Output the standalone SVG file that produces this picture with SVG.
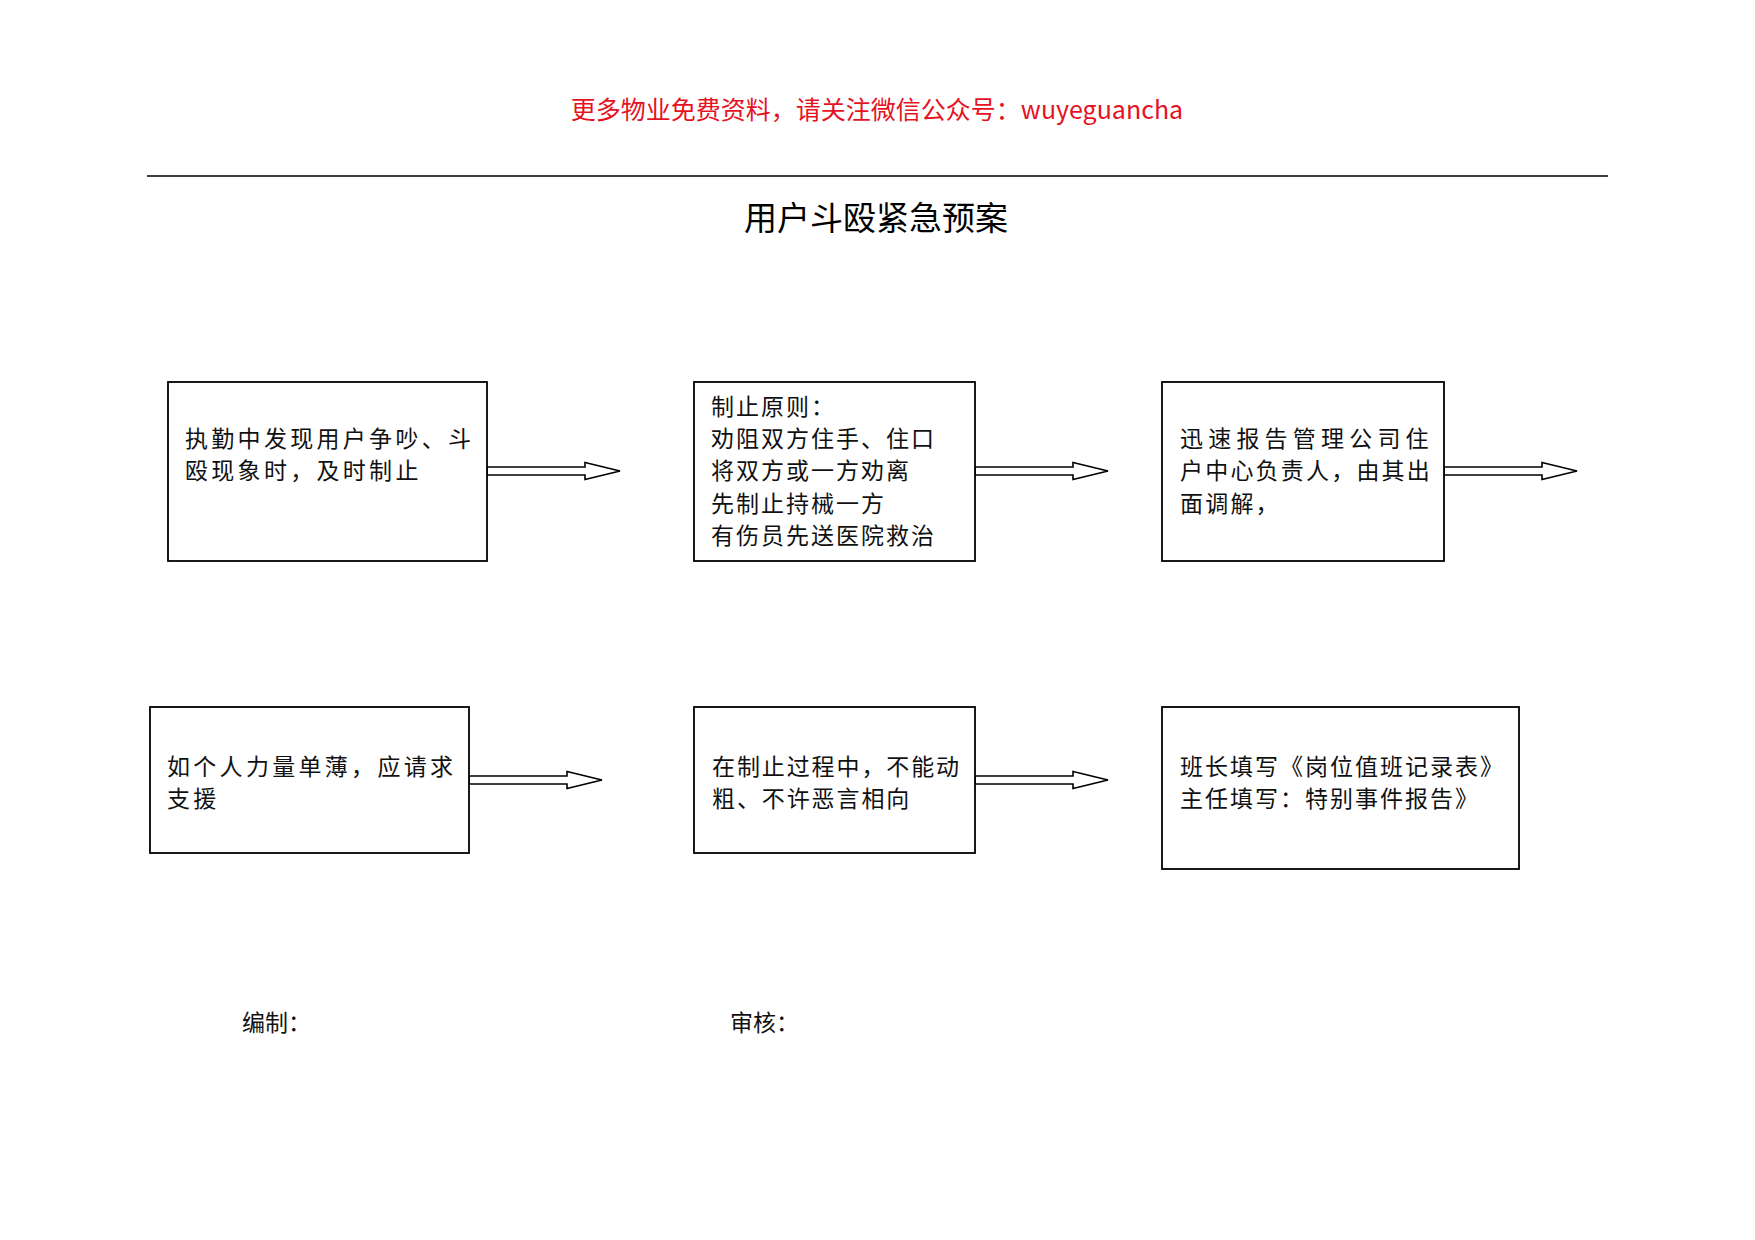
<svg xmlns="http://www.w3.org/2000/svg" width="1755" height="1240" viewBox="0 0 1755 1240">
<style>
.box{fill:#fff;stroke:#000;stroke-width:1.8}
.t{font-family:"Noto Sans CJK SC","Liberation Serif",sans-serif;font-size:23px;fill:#111}
.arr{fill:#fff;stroke:#000;stroke-width:1.6;stroke-linejoin:miter}
</style>
<rect width="1755" height="1240" fill="#fff"/>
<text x="877" y="119" text-anchor="middle" font-family="'Noto Sans CJK SC',sans-serif" font-size="25" fill="#e5121f">更多物业免费资料，请关注微信公众号：wuyeguancha</text>
<line x1="147" y1="176" x2="1608" y2="176" stroke="#000" stroke-width="1.6"/>
<text x="876" y="230" text-anchor="middle" font-family="'Noto Sans CJK SC',sans-serif" font-size="33" fill="#000">用户斗殴紧急预案</text>

<g id="connectors">
<polygon class="arr" points="487,467 585,467 585,462.5 620,471 585,479.5 585,475 487,475"/>
<polygon class="arr" points="975,467 1073,467 1073,462.5 1108,471 1073,479.5 1073,475 975,475"/>
<polygon class="arr" points="1444,467 1542,467 1542,462.5 1577,471 1542,479.5 1542,475 1444,475"/>
<polygon class="arr" points="469,776 567,776 567,771.5 602,780 567,788.5 567,784 469,784"/>
<polygon class="arr" points="975,776 1073,776 1073,771.5 1108,780 1073,788.5 1073,784 975,784"/>
</g>

<g id="node1">
<rect class="box" x="168" y="382" width="319" height="179"/>
<text class="t" x="185" y="447" letter-spacing="3.3">执勤中发现用户争吵、斗</text>
<text class="t" x="185" y="479" letter-spacing="3.3">殴现象时，及时制止</text>
</g>

<g id="node2">
<rect class="box" x="694" y="382" width="281" height="179"/>
<text class="t" x="711" y="415" letter-spacing="2">制止原则：</text>
<text class="t" x="711" y="447" letter-spacing="2">劝阻双方住手、住口</text>
<text class="t" x="711" y="479" letter-spacing="2">将双方或一方劝离</text>
<text class="t" x="711" y="512" letter-spacing="2">先制止持械一方</text>
<text class="t" x="711" y="544" letter-spacing="2">有伤员先送医院救治</text>
</g>

<g id="node3">
<rect class="box" x="1162" y="382" width="282" height="179"/>
<text class="t" x="1180" y="447" letter-spacing="5.2">迅速报告管理公司住</text>
<text class="t" x="1180" y="479" letter-spacing="2.2">户中心负责人，由其出</text>
<text class="t" x="1180" y="512" letter-spacing="2.2">面调解，</text>
</g>

<g id="node4">
<rect class="box" x="150" y="707" width="319" height="146"/>
<text class="t" x="167" y="775" letter-spacing="3.3">如个人力量单薄，应请求</text>
<text class="t" x="167" y="807" letter-spacing="3.3">支援</text>
</g>

<g id="node5">
<rect class="box" x="694" y="707" width="281" height="146"/>
<text class="t" x="712" y="775" letter-spacing="1.9">在制止过程中，不能动</text>
<text class="t" x="712" y="807" letter-spacing="1.9">粗、不许恶言相向</text>
</g>

<g id="node6">
<rect class="box" x="1162" y="707" width="357" height="162"/>
<text class="t" x="1180" y="775" letter-spacing="2">班长填写《岗位值班记录表》</text>
<text class="t" x="1180" y="807" letter-spacing="2">主任填写：特别事件报告》</text>
</g>

<text class="t" x="242" y="1031">编制：</text>
<text class="t" x="730" y="1031">审核：</text>
</svg>
